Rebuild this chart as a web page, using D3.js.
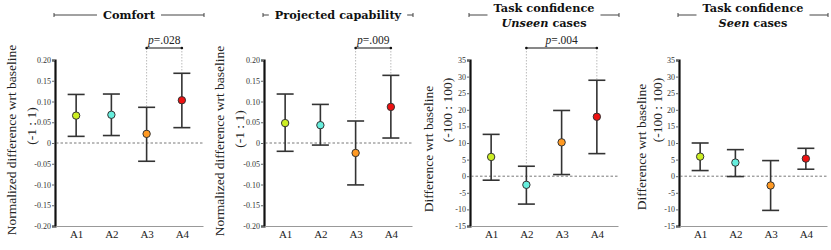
<!DOCTYPE html>
<html>
<head>
<meta charset="utf-8">
<script src="https://cdn.jsdelivr.net/npm/d3@7"></script>
<style>
  html, body { margin: 0; padding: 0; background: #fff; }
  svg { display: block; }
  .serif { font-family: "Liberation Serif", "Times New Roman", serif; }
  .ttl { font-family: "DejaVu Serif", serif; font-weight: bold; }
</style>
</head>
<body>
<svg id="chart" width="831" height="250"></svg>
<script>
// ---------------- DATA ----------------
const categories = ["A1", "A2", "A3", "A4"];
const pointColors = ["#ccee22", "#66eedd", "#ff9922", "#ee1111"];

const normTicks = [0.20, 0.15, 0.10, 0.05, 0, -0.05, -0.10, -0.15, -0.20];
const normTickLabels = ["0.20", "0.15", "0.10", "0.05", "0", "-0.05", "-0.10", "-0.15", "-0.20"];
const diffTicks = [35, 30, 25, 20, 15, 10, 5, 0, -5, -10, -15];
const diffTickLabels = ["35", "30", "25", "20", "15", "10", "5", "0", "-5", "-10", "-15"];

const comfortMean = [0.066, 0.068, 0.022, 0.103];
const comfortLow  = [0.016, 0.018, -0.044, 0.037];
const comfortHigh = [0.117, 0.118, 0.086, 0.168];

const capabilityMean = [0.048, 0.043, -0.024, 0.087];
const capabilityLow  = [-0.020, -0.005, -0.101, 0.012];
const capabilityHigh = [0.118, 0.093, 0.053, 0.163];

const unseenMean = [5.8, -2.6, 10.2, 17.9];
const unseenLow  = [-1.2, -8.4, 0.5, 6.8];
const unseenHigh = [12.6, 3.0, 19.8, 28.9];

const seenMean = [5.9, 4.1, -2.8, 5.3];
const seenLow  = [1.7, -0.1, -10.3, 2.1];
const seenHigh = [10.0, 8.0, 4.7, 8.4];

// ---------------- PANELS ----------------
const panels = [
  { title: [[{t: "Comfort"}]], mean: comfortMean, low: comfortLow, high: comfortHigh,
    domain: [-0.20, 0.20], ticks: normTicks, tickLabels: normTickLabels,
    ylab: ["Normalized difference wrt baseline", "(-1 : 1)"],
    compare: ["A3", "A4"], p: ".028",
    x0: 55, lab1: [11, 140], lab2: [31, 126] },
  { title: [[{t: "Projected capability"}]], mean: capabilityMean, low: capabilityLow, high: capabilityHigh,
    domain: [-0.20, 0.20], ticks: normTicks, tickLabels: normTickLabels,
    ylab: ["Normalized difference wrt baseline", "(-1 : 1)"],
    compare: ["A3", "A4"], p: ".009",
    x0: 264, lab1: [219, 141], lab2: [239, 129] },
  { title: [[{t: "Task confidence"}], [{t: "Unseen", i: true}, {t: " cases"}]], mean: unseenMean, low: unseenLow, high: unseenHigh,
    domain: [-15, 35], ticks: diffTicks, tickLabels: diffTickLabels,
    ylab: ["Difference wrt baseline", "(-100 : 100)"],
    compare: ["A2", "A4"], p: ".004",
    x0: 470, lab1: [428, 149], lab2: [447, 110] },
  { title: [[{t: "Task confidence"}], [{t: "Seen", i: true}, {t: " cases"}]], mean: seenMean, low: seenLow, high: seenHigh,
    domain: [-15, 35], ticks: diffTicks, tickLabels: diffTickLabels,
    ylab: ["Difference wrt baseline", "(-100 : 100)"],
    compare: null, p: null,
    x0: 679, lab1: [641, 147], lab2: [657, 110] }
];

const svg = d3.select("#chart");
const plotW = 148, yTop = 60, yBot = 226;

panels.forEach(P => {
  const g = svg.append("g");
  const x = d3.scalePoint().domain(categories).range([P.x0, P.x0 + plotW]).padding(0.6);
  const y = d3.scaleLinear().domain(P.domain).range([yBot, yTop]);

  // title
  const tg = g.append("g");
  const cx = P.x0 + plotW / 2;
  const twoLine = P.title.length > 1;
  const lineYs = twoLine ? [12, 27] : [19];
  let maxW = 0;
  P.title.forEach((parts, li) => {
    const t = tg.append("text").attr("class", "ttl").attr("x", cx).attr("y", lineYs[li])
      .attr("text-anchor", "middle").attr("font-size", 11.3).attr("fill", "#111");
    parts.forEach(p => t.append("tspan").text(p.t).attr("font-style", p.i ? "italic" : "normal"));
    maxW = Math.max(maxW, t.node().getComputedTextLength());
  });
  const ly = 15;
  const gap = maxW / 2 + 6;
  const segs = [[P.x0 - 1, cx - gap], [cx + gap, P.x0 + plotW + 1]];
  segs.forEach(([a, b]) => {
    tg.append("line").attr("x1", a).attr("x2", b).attr("y1", ly).attr("y2", ly)
      .attr("stroke", "#444").attr("stroke-width", 1);
  });
  [P.x0 - 1, P.x0 + plotW + 1].forEach(ex => {
    tg.append("line").attr("x1", ex).attr("x2", ex).attr("y1", ly - 2).attr("y2", ly + 2)
      .attr("stroke", "#444").attr("stroke-width", 1);
  });

  // y axis
  const yAxis = d3.axisLeft(y).tickValues(P.ticks)
    .tickFormat((d, i) => P.tickLabels[i]).tickSize(3).tickPadding(1);
  const ya = g.append("g").attr("transform", `translate(${P.x0},0)`).call(yAxis);
  ya.attr("font-family", null);
  ya.select(".domain").attr("stroke", "#111").attr("stroke-width", 2.2);
  ya.selectAll(".tick line").attr("stroke", "#666");
  ya.selectAll(".tick text").attr("class", "serif").attr("font-size", 8).attr("fill", "#333");

  // x axis
  const xAxis = d3.axisBottom(x).tickSize(0).tickPadding(4);
  const xa = g.append("g").attr("transform", `translate(0,${yBot})`).call(xAxis);
  xa.attr("font-family", null);
  xa.select(".domain").attr("stroke", "#999").attr("stroke-width", 1);
  xa.selectAll(".tick text").attr("class", "serif").attr("font-size", 11).attr("fill", "#222");

  // zero line
  g.append("line").attr("x1", P.x0 + 1).attr("x2", P.x0 + plotW).attr("y1", y(0)).attr("y2", y(0))
    .attr("stroke", "#555").attr("stroke-width", 0.8).attr("stroke-dasharray", "2.5,2");

  // y labels
  [[P.ylab[0], P.lab1], [P.ylab[1], P.lab2]].forEach(([txt, pos]) => {
    g.append("text").attr("class", "serif").attr("transform", `translate(${pos[0]},${pos[1]}) rotate(-90)`)
      .attr("text-anchor", "middle").attr("dominant-baseline", "central")
      .attr("font-size", 13.5).attr("fill", "#222").text(txt);
  });

  // p-value bracket
  if (P.compare) {
    const [c1, c2] = P.compare;
    const i1 = categories.indexOf(c1), i2 = categories.indexOf(c2);
    const by = 48;
    [[c1, i1], [c2, i2]].forEach(([c, i]) => {
      g.append("line").attr("x1", x(c)).attr("x2", x(c)).attr("y1", by).attr("y2", y(P.high[i]) - 1)
        .attr("stroke", "#bbb").attr("stroke-width", 1).attr("stroke-dasharray", "1.5,1.5");
    });
    g.append("line").attr("x1", x(c1)).attr("x2", x(c2)).attr("y1", by).attr("y2", by)
      .attr("stroke", "#111").attr("stroke-width", 1);
    [c1, c2].forEach(c => g.append("circle").attr("cx", x(c)).attr("cy", by).attr("r", 1.3).attr("fill", "#111"));
    const pt = g.append("text").attr("class", "serif").attr("x", (x(c1) + x(c2)) / 2).attr("y", by - 4)
      .attr("text-anchor", "middle").attr("font-size", 11.5).attr("fill", "#222");
    pt.append("tspan").attr("font-style", "italic").text("p");
    pt.append("tspan").text("=" + P.p);
  }

  // error bars
  const capW = 8.5;
  categories.forEach((c, i) => {
    const bx = x(c);
    g.append("line").attr("x1", bx).attr("x2", bx).attr("y1", y(P.low[i])).attr("y2", y(P.high[i]))
      .attr("stroke", "#333").attr("stroke-width", 1.6);
    [P.low[i], P.high[i]].forEach(v => {
      g.append("line").attr("x1", bx - capW).attr("x2", bx + capW).attr("y1", y(v)).attr("y2", y(v))
        .attr("stroke", "#333").attr("stroke-width", 1.6);
    });
    g.append("circle").attr("cx", bx).attr("cy", y(P.mean[i])).attr("r", 3.7)
      .attr("fill", pointColors[i]).attr("stroke", "#333").attr("stroke-width", 1);
  });
});
</script>
</body>
</html>
